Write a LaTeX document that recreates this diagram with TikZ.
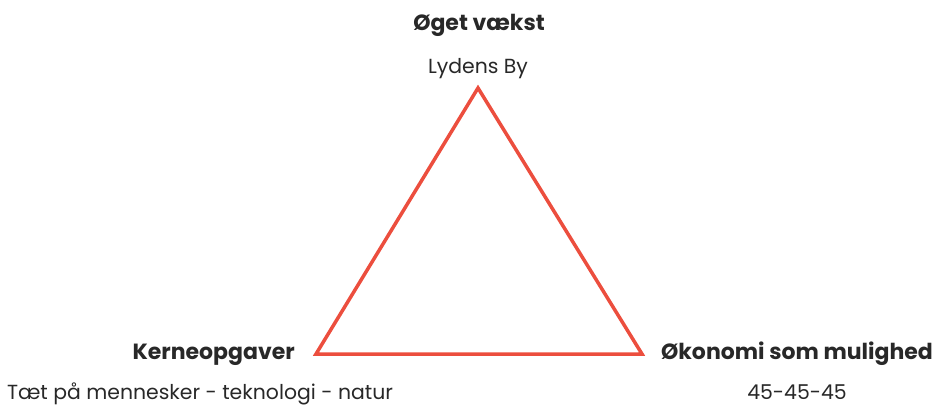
\documentclass[tikz,border=0pt]{standalone}
\usepackage{fontspec}
\setmainfont{Poppins}
\definecolor{trekant}{RGB}{236,78,62}
\definecolor{tekst}{RGB}{40,40,40}
\begin{document}
\begin{tikzpicture}[
        x=1pt, y=-1pt,
        every node/.style={font=\fontsize{20.4}{24}\selectfont, text=tekst, inner sep=0pt},
        titel/.style={font=\fontsize{22}{26}\selectfont\bfseries},
        kant/.style={draw=trekant, line width=3.5pt, line join=miter}
    ]

        \useasboundingbox (0,0) rectangle (937,406);

        %--------------------------------
        % Trekant
        %--------------------------------
        \coordinate (top) at (478,88);
        \coordinate (venstre) at (316,354);
        \coordinate (hoejre) at (642,354);

        \draw[kant] (top) -- (hoejre) -- (venstre) -- cycle;

        %--------------------------------
        % Tekster
        %--------------------------------
        \node[titel, anchor=base] (vaekst) at (479,31) {Øget vækst};
        \node[anchor=base] (lyd) at (478,74) {Lydens By};

        \node[titel, anchor=base east] (kerne) at (295,359) {Kerneopgaver};
        \node[anchor=base] (taet) at (200,399) {Tæt på mennesker - teknologi - natur};

        \node[titel, anchor=base] (oekonomi) at (797,359) {Økonomi som mulighed};
        \node[anchor=base] (tal) at (797,399) {45-45-45};

    \end{tikzpicture}
\end{document}
